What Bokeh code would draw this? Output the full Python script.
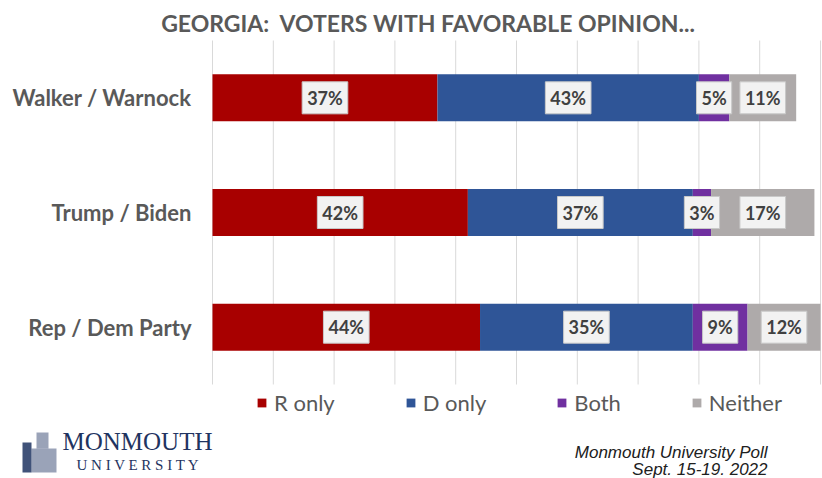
from bokeh.plotting import figure
from bokeh.models import (ColumnDataSource, Label, Legend, LegendItem, Range1d, BoxAnnotation)
from bokeh.core.properties import value
from bokeh.embed import file_html
from bokeh.resources import INLINE

# ---- data ----
questions = ["Walker / Warnock", "Trump / Biden", "Rep / Dem Party"]
r_only = [37, 42, 44]
d_only = [43, 37, 35]
both = [5, 3, 9]
neither = [11, 17, 12]
series = ["R only", "D only", "Both", "Neither"]
colors = ["#A80000", "#2F5597", "#7030A0", "#AEAAAA"]
grid_ticks = [0, 10, 20, 30, 40, 50, 60, 70, 80, 90, 100]

FONT = "Lato"
GRAY = "#595959"
W, H = 822, 478

n = len(questions)
ypos = [n - i for i in range(n)]          # top category highest
data = {"y": ypos, "q": questions, "R only": r_only, "D only": d_only,
        "Both": both, "Neither": neither}
src = ColumnDataSource(data)

# layout of the whole canvas: the frame covers everything
X0_PX, PX_PER_PCT = 212, 6.08             # 0% at x=212px
TOP_PX, BAND_PX = 40, 114.67              # plot band starts at y=40px
x_start = -X0_PX / PX_PER_PCT
x_end = (W - X0_PX) / PX_PER_PCT
y_end = n + 0.5 + TOP_PX / BAND_PX
y_start = y_end - H / BAND_PX

p = figure(width=W, height=H, output_backend="svg", toolbar_location=None,
           x_range=Range1d(x_start, x_end), y_range=Range1d(y_start, y_end),
           min_border=0)
p.axis.visible = False
p.grid.visible = False
p.outline_line_color = None
p.background_fill_color = "white"
p.border_fill_color = "white"

# vertical gridlines over the bar band
p.segment(x0=grid_ticks, x1=grid_ticks, y0=0.5, y1=n + 0.5, line_color="#D9D9D9", line_width=1)

rends = p.hbar_stack(series, y="y", height=0.41, color=colors, line_color=None, source=src)

# category labels
p.text(x=[0] * n, y=ypos, text=questions, x_offset=-21, text_align="right", text_baseline="middle",
       text_font=value(FONT), text_font_size="22px", text_font_style="bold", text_color=GRAY)

# value labels centred on each segment
lx, ly, lt = [], [], []
for i in range(n):
    left = 0
    for s in series:
        v = data[s][i]
        lx.append(left + v / 2)
        ly.append(ypos[i])
        lt.append(f"{v}%")
        left += v
lsrc = ColumnDataSource(dict(x=lx, y=ly, t=lt))
p.text(x="x", y="y", text="t", source=lsrc, text_align="center", text_baseline="middle",
       text_font=value(FONT), text_font_size="18px", text_font_style="bold",
       text_color="#404040", background_fill_color="#F2F2F2",
       border_line_color="#C8C8C8", border_line_width=1, padding=5)

legend = Legend(items=[LegendItem(label=s, renderers=[r]) for s, r in zip(series, rends)],
                orientation="horizontal", location=(256, 62), spacing=70,
                glyph_width=11, glyph_height=11, label_standoff=7, padding=0, margin=0,
                border_line_color=None, background_fill_alpha=0,
                label_text_font=FONT, label_text_font_size="22px", label_text_color=GRAY)
p.add_layout(legend, "center")

p.add_layout(Label(x=428, y=H - 22, x_units="screen", y_units="screen",
                   text="GEORGIA:\u00a0 VOTERS WITH FAVORABLE OPINION...",
                   text_align="center", text_baseline="alphabetic",
                   text_font=FONT, text_font_size="23px", text_font_style="bold",
                   text_color=GRAY))

# logo
NAVY = "#1F3461"
for l, r, b, t, a in [(22, 31, 6, 36, 0.85), (31, 56, 6, 30, 0.45), (36, 48, 30, 46, 0.45)]:
    p.add_layout(BoxAnnotation(left=l, right=r, bottom=b, top=t, left_units="screen",
                               right_units="screen", bottom_units="screen", top_units="screen",
                               fill_color=NAVY, fill_alpha=a, line_color=None))
p.add_layout(Label(x=62, y=H - 441, x_units="screen", y_units="screen", text="MONMOUTH",
                   text_align="left", text_baseline="alphabetic",
                   text_font="Liberation Serif", text_font_size="25px", text_color=NAVY))
p.add_layout(Label(x=76, y=H - 464, x_units="screen", y_units="screen", text="U N I V E R S I T Y",
                   text_align="left", text_baseline="alphabetic",
                   text_font="Liberation Serif", text_font_size="15px", text_color=NAVY))

# footer
for txt, yy in [("Monmouth University Poll", 452), ("Sept. 15-19. 2022", 469)]:
    p.add_layout(Label(x=767, y=H - yy, x_units="screen", y_units="screen", text=txt,
                       text_align="right", text_baseline="alphabetic",
                       text_font="Liberation Sans", text_font_size="17px",
                       text_font_style="italic", text_color="#202020"))

open("out.html", "w").write(file_html(p, INLINE))
